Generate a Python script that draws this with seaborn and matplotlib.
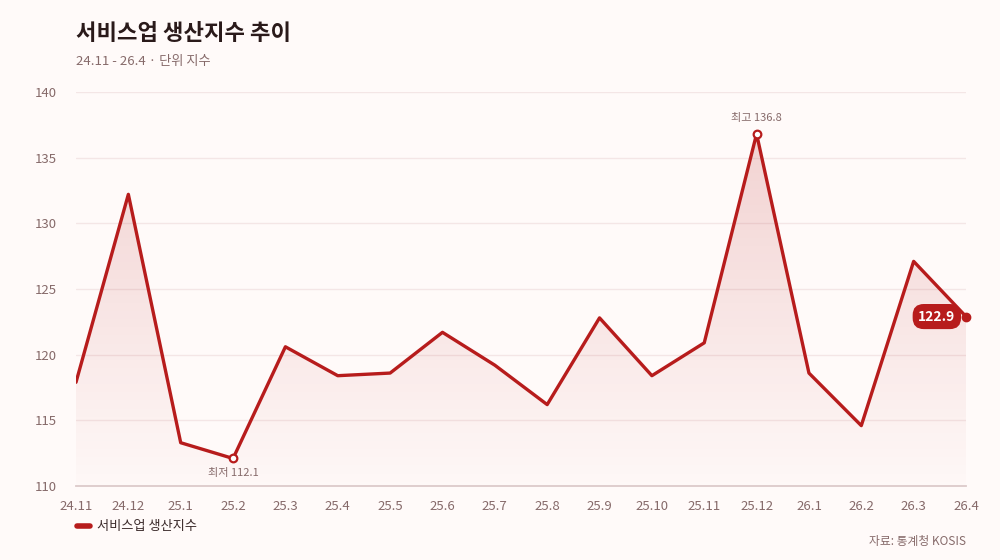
import matplotlib
matplotlib.use("Agg")
import matplotlib.pyplot as plt
import seaborn as sns
import numpy as np
import pandas as pd
from matplotlib.patches import Polygon

months = ["24.11", "24.12", "25.1", "25.2", "25.3", "25.4", "25.5", "25.6", "25.7",
          "25.8", "25.9", "25.10", "25.11", "25.12", "26.1", "26.2", "26.3", "26.4"]
values = [117.9, 132.2, 113.3, 112.1, 120.6, 118.4, 118.6, 121.7, 119.2,
          116.2, 122.8, 118.4, 120.9, 136.8, 118.6, 114.6, 127.1, 122.9]
y_ticks = [110, 115, 120, 125, 130, 135, 140]

RED = "#B71C1C"
BG = "#FFFAF9"
TXT = "#866A6A"

sns.set_theme(style="white")
plt.rcParams["font.family"] = ["Noto Sans CJK KR", "DejaVu Sans"]

df = pd.DataFrame({"month": months, "value": values, "x": range(len(months))})

fig = plt.figure(figsize=(10, 5.6), dpi=100, facecolor=BG)
ax = fig.add_axes([0.076, 0.132, 0.89, 0.704])
ax.set_facecolor(BG)

# gradient fill under the line, strong at top, fading down
verts = [(0, 110)] + list(zip(df["x"], df["value"])) + [(len(months) - 1, 110)]
poly = Polygon(verts, closed=True, facecolor="none", edgecolor="none")
ax.add_patch(poly)
grad = np.linspace(0, 1, 256).reshape(-1, 1)
cmap = matplotlib.colors.LinearSegmentedColormap.from_list(
    "g", [(0.718, 0.11, 0.11, 0.01), (0.718, 0.11, 0.11, 0.2)])
im = ax.imshow(grad, cmap=cmap, aspect="auto", extent=[0, len(months) - 1, 110, 140],
               origin="lower", zorder=1)
im.set_clip_path(poly)

sns.lineplot(data=df, x="x", y="value", color=RED, linewidth=2.4, ax=ax, zorder=3,
             label="서비스업 생산지수")

ax.set_xlim(0, len(months) - 1)
ax.set_ylim(110, 140)
ax.set_yticks(y_ticks)
ax.set_yticklabels([str(t) for t in y_ticks])
ax.set_xticks(range(len(months)))
ax.set_xticklabels(months)
ax.tick_params(axis="both", length=0, labelsize=9.5, colors=TXT)
ax.tick_params(axis="y", pad=14)
ax.tick_params(axis="x", pad=10)
ax.set_xlabel("")
ax.set_ylabel("")
for t in y_ticks[1:]:
    ax.axhline(t, color="#F4E6E6", linewidth=1, zorder=0)
for s in ["top", "right", "left"]:
    ax.spines[s].set_visible(False)
ax.spines["bottom"].set_color("#DCCACA")
ax.spines["bottom"].set_linewidth(1.3)

# min / max markers
imax = int(np.argmax(values))
imin = int(np.argmin(values))
for i in (imax, imin):
    ax.plot(i, values[i], "o", ms=5.5, mfc="white", mec=RED, mew=1.6, zorder=5, clip_on=False)
ax.annotate(f"최고 {values[imax]}", (imax, values[imax]), xytext=(0, 7.5),
            textcoords="offset points", ha="center", va="bottom", fontsize=8, color=TXT)
ax.annotate(f"최저 {values[imin]}", (imin, values[imin]), xytext=(0, -7),
            textcoords="offset points", ha="center", va="top", fontsize=8, color=TXT)

# last value
last = len(values) - 1
ax.plot(last, values[last], "o", ms=6, color=RED, zorder=5, clip_on=False)
ax.annotate(f"{values[last]}", (last, values[last]), xytext=(-21, 0),
            textcoords="offset points", ha="center", va="center", fontsize=10,
            color="white", fontweight="bold", zorder=6,
            bbox=dict(boxstyle="round,pad=0.4,rounding_size=0.8", fc=RED, ec="none"))

leg = ax.legend(loc="upper left", bbox_to_anchor=(-0.012, -0.057), frameon=False,
                fontsize=9.5, handlelength=1.0, handletextpad=0.5)
for t in leg.get_texts():
    t.set_color("#3A2A2A")
for h in leg.get_lines():
    h.set_linewidth(4)
    h.set_solid_capstyle("round")

fig.text(0.076, 0.94, "서비스업 생산지수 추이", fontsize=16, fontweight="bold", color="#2A1A1A",
         va="center")
fig.text(0.076, 0.89, "24.11 - 26.4 · 단위 지수", fontsize=9.5, color=TXT, va="center")
fig.text(0.966, 0.033, "자료: 통계청 KOSIS", fontsize=8.5, color=TXT, ha="right", va="center")

fig.savefig("out.png", dpi=100, facecolor=BG)
